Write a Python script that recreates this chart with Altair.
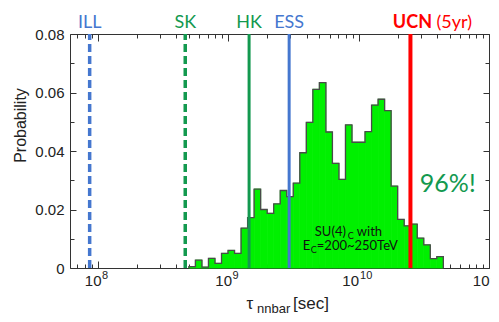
import altair as alt
import pandas as pd

# ---------------- data ----------------
bin_lo_exp = [8.70, 8.75, 8.80, 8.85, 8.90, 8.95, 9.00, 9.05, 9.10, 9.15,
              9.20, 9.25, 9.30, 9.35, 9.40, 9.45, 9.50, 9.55, 9.60, 9.65,
              9.70, 9.75, 9.80, 9.85, 9.90, 9.95, 10.00, 10.05, 10.10, 10.15,
              10.20, 10.25, 10.30, 10.35, 10.40, 10.45, 10.50, 10.55, 10.60]
bin_width_exp = 0.05
prob = [0.0005, 0.0027, 0.0003, 0.0033, 0.0016, 0.0050, 0.0060, 0.0050, 0.0136, 0.0172,
        0.0270, 0.0200, 0.0187, 0.0219, 0.0265, 0.0244, 0.0290, 0.0394, 0.0498, 0.0611,
        0.0634, 0.0465, 0.0358, 0.0303, 0.0489, 0.0430, 0.0430, 0.0466, 0.0557, 0.0577,
        0.0538, 0.0280, 0.0166, 0.0144, 0.0150, 0.0102, 0.0079, 0.0032, 0.0039]

BLUE = "#4577CF"
GREEN = "#13994f"
RED = "#FF0000"
FILL = "#00f000"

line_names = ["ILL", "SK", "HK", "ESS", "UCN"]
line_tau = [8.7e7, 4.7e8, 1.45e9, 2.94e9, 2.5e10]
line_colors = [BLUE, GREEN, GREEN, BLUE, RED]
line_dashed = [True, True, False, False, False]
line_widths = [3.5, 3.5, 3, 3, 4]

x_major = [1e8, 1e9, 1e10, 1e11]
x_major_exp = ["8", "9", "10", "11"]
x_minor = [m * 10 ** e for e in [7, 8, 9, 10] for m in [2, 3, 4, 5, 6, 7, 8, 9] if m * 10 ** e > 6.2e7]
y_major = [0, 0.02, 0.04, 0.06, 0.08]
y_minor = [0.01, 0.03, 0.05, 0.07]

# ---------------- tables ----------------
hist = pd.DataFrame({
    "lo": [10 ** e for e in bin_lo_exp],
    "hi": [10 ** (e + bin_width_exp) for e in bin_lo_exp],
    "p": prob,
})
step_x = [hist["lo"].iloc[0]] + list(hist["lo"]) + [hist["hi"].iloc[-1]]
step_y = [0.0] + prob + [0.0]
step = pd.DataFrame({"i": list(range(len(step_x))), "x": step_x, "y": step_y})

xs = alt.Scale(type="log", domain=[6.15e7, 1e11], nice=False)
ys = alt.Scale(domain=[0, 0.08], nice=False, zero=True)

LF = "Liberation Sans"


def xaxis(orient, values, size):
    return alt.Axis(orient=orient, values=values, tickSize=size, offset=-size, domain=False,
                    grid=False, labels=False, title=None, tickColor="#333", tickWidth=1)


def yaxis(orient, values, size, labels, title=False):
    kw = dict(orient=orient, values=values, tickSize=size, offset=-size, domain=False,
              grid=False, labels=labels, tickColor="#333", tickWidth=1,
              labelOverlap=False)
    if labels:
        kw.update(labelPadding=6, labelFont=LF, labelFontSize=15, labelColor="#222",
                  labelExpr="datum.value == 0 ? '0' : format(datum.value, '.2f')")
    if title:
        kw.update(title="Probability", titleFont=LF, titleFontSize=16, titleFontWeight="normal",
                  titleColor="#222", titleX=-56, titleY=91, titleAngle=270,
                  titleAlign="center", titleBaseline="middle")
    else:
        kw.update(title=None)
    return alt.Axis(**kw)


bars = alt.Chart(hist).mark_rect(color=FILL, stroke=FILL, strokeWidth=0.8).encode(
    x=alt.X("lo:Q", scale=xs, axis=xaxis("bottom", x_major, 7)),
    x2="hi:Q",
    y=alt.Y("p:Q", scale=ys, axis=yaxis("left", y_major, 6, True, title=True)),
    y2=alt.datum(0),
)

outline = alt.Chart(step).mark_line(interpolate="step-after", color="#4a4a4a", strokeWidth=1.3).encode(
    x=alt.X("x:Q", scale=xs, axis=xaxis("bottom", x_minor, 4)),
    y=alt.Y("y:Q", scale=ys, axis=yaxis("left", y_minor, 4, False)),
    order="i:Q",
)

rules = []
for n, t, c, d, w in zip(line_names, line_tau, line_colors, line_dashed, line_widths):
    kw = dict(color=c, strokeWidth=w)
    if d:
        kw["strokeDash"] = [8, 4]
    rules.append(
        alt.Chart(pd.DataFrame({"tau": [t]})).mark_rule(**kw).encode(
            x=alt.X("tau:Q", scale=xs, axis=None),
            y=alt.Y(datum=0, scale=ys, axis=None),
            y2=alt.datum(0.08),
        )
    )

lab_df = pd.DataFrame({"name": line_names[:4], "tau": line_tau[:4], "color": line_colors[:4]})
top_labels = alt.Chart(lab_df).mark_text(font="Lato", fontSize=18, baseline="alphabetic",
                                         align="center").encode(
    x=alt.X("tau:Q", scale=xs, axis=xaxis("top", x_major, 7)),
    y=alt.value(-6),
    text="name:N",
    color=alt.Color("color:N", scale=None),
)

ucn_df = pd.DataFrame({"tau": [line_tau[4]], "t1": ["UCN"], "t2": ["(5yr)"]})
ucn1 = alt.Chart(ucn_df).mark_text(font="Lato", fontSize=18, fontWeight="bold", color=RED,
                                   baseline="alphabetic", align="center", dx=2).encode(
    x=alt.X("tau:Q", scale=xs, axis=xaxis("top", x_minor, 4)),
    y=alt.value(-6),
    text="t1:N",
)
ucn2 = alt.Chart(ucn_df).mark_text(font="Lato", fontSize=18, color=RED,
                                   baseline="alphabetic", align="left", dx=26).encode(
    x=alt.X("tau:Q", scale=xs, axis=None),
    y=alt.value(-6),
    text="t2:N",
)

pct_df = pd.DataFrame({"x": [10 ** 10.47], "y": [0.026], "t": ["96%!"]})
pct = alt.Chart(pct_df).mark_text(font="Lato", fontSize=25, color=GREEN,
                                  baseline="alphabetic", align="left").encode(
    x=alt.X("x:Q", scale=xs, axis=None),
    y=alt.Y("y:Q", scale=ys, axis=yaxis("right", y_major, 6, False)),
    text="t:N",
)

# SU(4)_C with / E_C=200~250TeV annotation
su_x1 = 10 ** 9.665
su_x2 = 10 ** 9.573
su_y1 = 0.0109
su_y2 = 0.0062
su_parts = pd.DataFrame({
    "x": [su_x1, su_x1, su_x1, su_x2, su_x2, su_x2],
    "y": [su_y1, su_y1, su_y1, su_y2, su_y2, su_y2],
    "t": ["SU(4)", "C", "with", "E", "C", "=200~250TeV"],
    "dx": [0, 33, 42, 0, 8, 14],
    "sub": [0, 1, 0, 0, 1, 0],
})


def su_layer(sub, dxv, with_axis=False):
    d = su_parts[(su_parts["sub"] == sub) & (su_parts["dx"] == dxv)]
    ax = yaxis("right", y_minor, 4, False) if with_axis else None
    return alt.Chart(d).mark_text(font="Lato", fontSize=9 if sub else 13, color="#111",
                                  baseline="alphabetic", align="left", dx=dxv,
                                  dy=3 if sub else 0).encode(
        x=alt.X("x:Q", scale=xs, axis=None),
        y=alt.Y("y:Q", scale=ys, axis=ax),
        text="t:N",
    )


su_layers = [su_layer(0, 0, True), su_layer(1, 33), su_layer(0, 42),
             su_layer(1, 8), su_layer(0, 14)]

# x tick labels 10^n with real superscripts
tick_df = pd.DataFrame({"x": x_major, "base": ["10"] * 4, "sup": x_major_exp})
tick_layers = []
for sel, bdx, sdx in [(lambda s: len(s) == 1, 4, 4.5), (lambda s: len(s) == 2, 0.5, 1.5)]:
    d = tick_df[tick_df["sup"].map(sel)]
    tick_layers.append(
        alt.Chart(d).mark_text(font=LF, fontSize=15, color="#222", baseline="alphabetic",
                               align="right", dx=bdx).encode(
            x=alt.X("x:Q", scale=xs, axis=None), y=alt.value(252), text="base:N"))
    tick_layers.append(
        alt.Chart(d).mark_text(font=LF, fontSize=11, color="#222", baseline="alphabetic",
                               align="left", dx=sdx).encode(
            x=alt.X("x:Q", scale=xs, axis=None), y=alt.value(245), text="sup:N"))

# x-axis title: tau_nnbar [sec]
ttl = []
for txt, xv, yv, fs in [("\u03c4", 176.5, 275, 17), ("nnbar", 187, 278.5, 13), ("[sec]", 223, 275, 17)]:
    ttl.append(
        alt.Chart(pd.DataFrame({"t": [txt]})).mark_text(font=LF, fontSize=fs, color="#222",
                                                         baseline="alphabetic", align="left").encode(
            x=alt.value(xv), y=alt.value(yv), text="t:N")
    )

chart = alt.layer(bars, outline, *rules, top_labels, ucn1, ucn2, pct, *su_layers,
                  *tick_layers, *ttl).resolve_axis(
    x="independent", y="independent"
).properties(
    width=419, height=234,
    autosize=alt.AutoSizeParams(type="none"),
    padding={"left": 62, "top": 26, "right": 2, "bottom": 46},
).configure_view(stroke="#333", strokeWidth=1).configure_axis(grid=False)

chart.save("out.html", embed_options={"renderer": "svg", "actions": False})
